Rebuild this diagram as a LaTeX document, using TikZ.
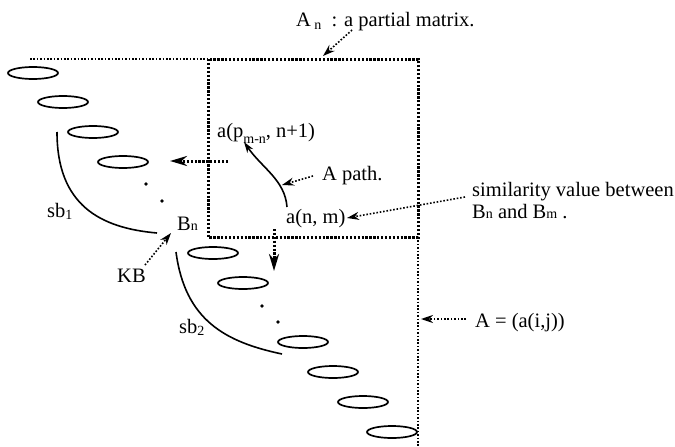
\documentclass[tikz,border=0pt]{standalone}
\usepackage{fontspec}
\setmainfont{Liberation Serif}
\usetikzlibrary{shapes.geometric,arrows.meta}

\newcommand{\lowsub}[2][0.25ex]{\raisebox{-#1}{\fontsize{14}{14}\selectfont #2}}

\tikzset{
  lbl/.style={inner sep=0pt, anchor=base west, font=\fontsize{20.5}{22}\selectfont},
  blk/.style={draw, ellipse, line width=1.7pt, minimum width=50pt, minimum height=12pt, inner sep=0pt},
  thindots/.style={line width=1.6pt, dash pattern=on 1.6pt off 1.8pt},
  thickdots/.style={line width=3pt, dash pattern=on 2.3pt off 1.6pt},
  ptr/.style={thindots, -{Stealth[length=12pt, width=8pt]}},
  bigptr/.style={thickdots, -{Stealth[length=17pt, width=10pt]}},
  seg/.style={line width=1.6pt}
}

\begin{document}
\begin{tikzpicture}[x=1pt, y=-1pt]
      \useasboundingbox (0,0) rectangle (675,447);

      % Define coordinates
      \coordinate (top_left) at (30,59);
      \coordinate (box_nw) at (208,59);
      \coordinate (box_se) at (418,237);
      \coordinate (bottom) at (418,447);

      % Draw the matrix A and the partial matrix A_n
      \draw[thindots] (top_left) -- (box_nw);
      \draw[thindots] (box_se) -- (bottom);
      \draw[thickdots] (box_nw) rectangle (box_se);

      % Draw the blocks on the diagonal
      \node[blk] (e0) at (33,73) {};
      \node[blk] (e1) at (63,102) {};
      \node[blk] (e2) at (93,132) {};
      \node[blk] (e3) at (123,162) {};
      \node[blk] (e6) at (213,253) {};
      \node[blk] (e7) at (243,283) {};
      \node[blk] (e9) at (303,342) {};
      \node[blk] (e10) at (333,372) {};
      \node[blk] (e11) at (363,402) {};
      \node[blk] (e12) at (392,432) {};
      \fill (146,184) circle (1.8pt);
      \fill (162,201) circle (1.8pt);
      \fill (262,306) circle (1.8pt);
      \fill (278,322) circle (1.8pt);

      % Labels
      \node[lbl] (an) at (296,27) {A\,\lowsub{n} \ : a partial matrix.};
      \node[lbl] (apm) at (217,137) {a(p\lowsub[0.7ex]{m-n}, n+1)};
      \node[lbl] (apath) at (322,180) {A path.};
      \node[lbl] (anm) at (286,223) {a(n, m)};
      \node[lbl, align=left, anchor=north west] (sim) at (472,182) {similarity value between\\B\lowsub[0pt]{n} and B\lowsub[0pt]{m} .};
      \node[lbl] (aij) at (475,327) {A = (a(i,j))};
      \node[lbl] (bn) at (177,230) {B\lowsub[0pt]{n}};
      \node[lbl] (sb1) at (47,217) {sb\lowsub{1}};
      \node[lbl] (kb) at (117,282) {KB};
      \node[lbl] (sb2) at (179,333) {sb\lowsub{2}};

      % The sub-block curves
      \draw[seg] (57,132) .. controls (57,205) and (100,228) .. (157,233);
      \draw[seg] (176,252) .. controls (185,320) and (225,342) .. (282,354);

      % The path from a(n, m)
      \coordinate (path_s) at (287,207);
      \coordinate (path_e) at (244,142);
      \draw[seg, -{Stealth[length=11pt, width=7pt]}] (path_s) .. controls (285,180) and (262,168) .. (path_e);

      % Pointers
      \coordinate (an_s) at (352,30);
      \coordinate (an_e) at (323,56);
      \draw[ptr] (an_s) -- (an_e);
      \coordinate (apath_s) at (313,176);
      \coordinate (apath_e) at (282,185);
      \draw[ptr] (apath_s) -- (apath_e);
      \coordinate (sim_s) at (465,197);
      \coordinate (sim_e) at (347,218);
      \draw[ptr] (sim_s) -- (sim_e);
      \coordinate (aij_s) at (466,319);
      \coordinate (aij_e) at (421,319);
      \draw[ptr] (aij_s) -- (aij_e);
      \coordinate (kb_s) at (145,265);
      \coordinate (kb_e) at (171,233);
      \draw[ptr] (kb_s) -- (kb_e);

      % Arrows out of the partial matrix
      \coordinate (left_s) at (228,161);
      \coordinate (left_e) at (170,161);
      \draw[bigptr] (left_s) -- (left_e);
      \coordinate (down_s) at (274,229);
      \coordinate (down_e) at (274,271);
      \draw[bigptr] (down_s) -- (down_e);
    \end{tikzpicture}
\end{document}
